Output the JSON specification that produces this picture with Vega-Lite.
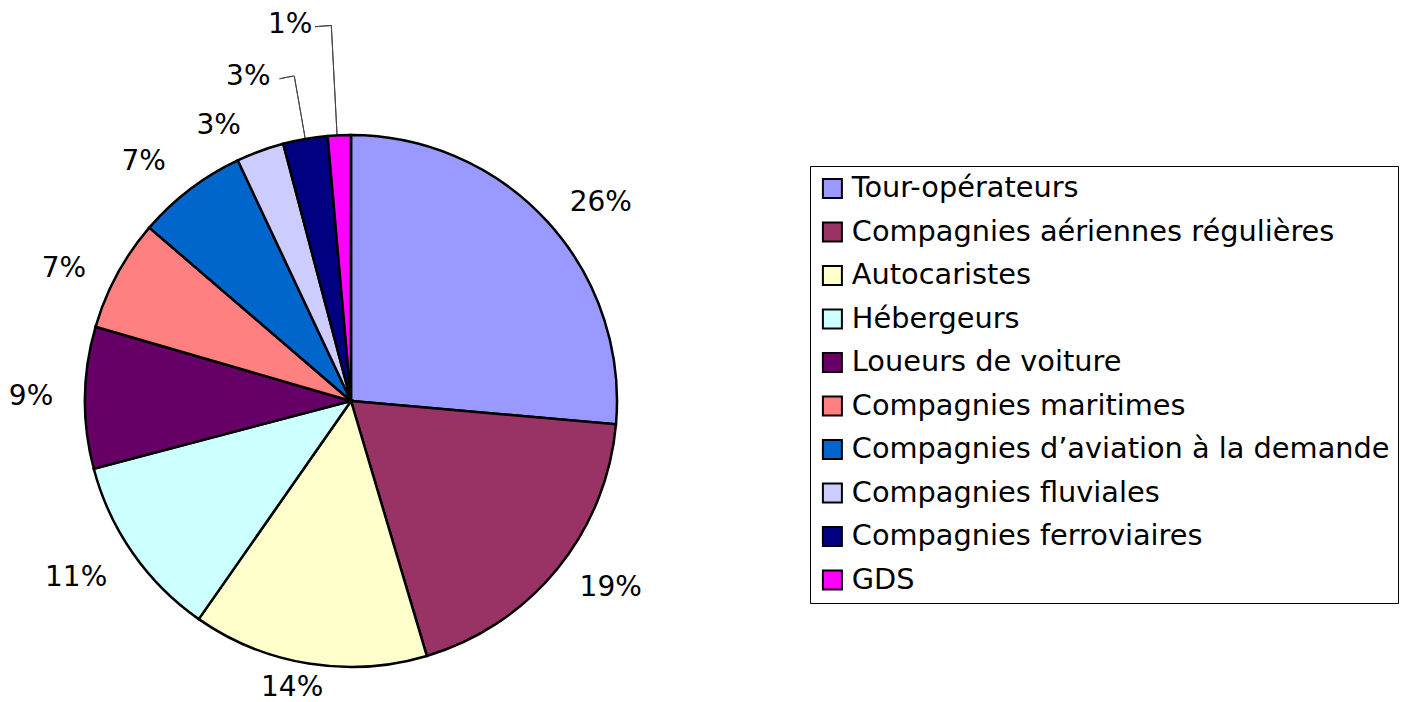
{
  "$schema": "https://vega.github.io/schema/vega-lite/v6.json",
  "width": 702,
  "height": 600,
  "autosize": {"type": "none"},
  "padding": {"left": 0, "top": 101, "right": 703, "bottom": 1},
  "background": "white",
  "config": {"view": {"stroke": null}},
  "data": {
    "values": [
      {"cat": "Tour-opérateurs", "v": 0.264},
      {"cat": "Compagnies aériennes régulières", "v": 0.190},
      {"cat": "Autocaristes", "v": 0.143},
      {"cat": "Hébergeurs", "v": 0.112},
      {"cat": "Loueurs de voiture", "v": 0.086},
      {"cat": "Compagnies maritimes", "v": 0.068},
      {"cat": "Compagnies d’aviation à la demande", "v": 0.067},
      {"cat": "Compagnies fluviales", "v": 0.029},
      {"cat": "Compagnies ferroviaires", "v": 0.027},
      {"cat": "GDS", "v": 0.014}
    ]
  },
  "encoding": {
    "theta": {"field": "v", "type": "quantitative", "stack": true},
    "order": {"field": "v", "type": "quantitative", "sort": "descending"},
    "detail": {"field": "cat", "type": "nominal"}
  },
  "layer": [
    {
      "mark": {"type": "arc", "radius": 330, "radius2": 266, "thetaOffset": 0, "padAngle": 1, "fillOpacity": 0, "stroke": "#444444", "strokeWidth": 1},
      "encoding": {"strokeOpacity": {"condition": {"test": "datum.cat == 'Compagnies ferroviaires'", "value": 1}, "value": 0}}
    },
    {
      "mark": {"type": "arc", "radius": 330, "radius2": 330, "thetaOffset": -0.0236, "padAngle": 0.0892, "fillOpacity": 0, "stroke": "#444444", "strokeWidth": 1},
      "encoding": {"strokeOpacity": {"condition": {"test": "datum.cat == 'Compagnies ferroviaires'", "value": 1}, "value": 0}}
    },
    {
      "mark": {"type": "arc", "radius": 376, "radius2": 266, "thetaOffset": -0.0084, "padAngle": 1, "fillOpacity": 0, "stroke": "#444444", "strokeWidth": 1},
      "encoding": {"strokeOpacity": {"condition": {"test": "datum.cat == 'GDS'", "value": 1}, "value": 0}}
    },
    {
      "mark": {"type": "arc", "radius": 376, "radius2": 376, "thetaOffset": -0.0302, "padAngle": 0.0314, "fillOpacity": 0, "stroke": "#444444", "strokeWidth": 1},
      "encoding": {"strokeOpacity": {"condition": {"test": "datum.cat == 'GDS'", "value": 1}, "value": 0}}
    },
    {
      "mark": {"type": "arc", "radius": 266, "stroke": "black", "strokeWidth": 2.5},
      "encoding": {
        "color": {
          "field": "cat",
          "type": "nominal",
          "scale": {
            "domain": ["Tour-opérateurs", "Compagnies aériennes régulières", "Autocaristes", "Hébergeurs", "Loueurs de voiture", "Compagnies maritimes", "Compagnies d’aviation à la demande", "Compagnies fluviales", "Compagnies ferroviaires", "GDS"],
            "range": ["#9999FF", "#993366", "#FFFFCC", "#CCFFFF", "#660066", "#FF8080", "#0066CC", "#CCCCFF", "#000080", "#FF00FF"]
          },
          "legend": {
            "orient": "none",
            "legendX": 810,
            "legendY": 65,
            "title": null,
            "symbolType": "square",
            "symbolSize": 361,
            "symbolStrokeColor": "black",
            "symbolStrokeWidth": 2,
            "labelFont": "DejaVu Sans",
            "labelFontSize": 28.8,
            "labelColor": "black",
            "labelOffset": 5,
            "labelLimit": 1000,
            "rowPadding": 13.5,
            "padding": 8,
            "strokeColor": "black",
            "fillColor": "white"
          }
        }
      }
    },
    {
      "mark": {"type": "text", "radius": 319, "thetaOffset": 0.07, "font": "DejaVu Sans", "fontSize": 28, "fill": "black"},
      "encoding": {"text": {"condition": {"test": "datum.cat == 'Tour-opérateurs'", "field": "v", "type": "quantitative", "format": ".0%"}, "value": ""}}
    },
    {
      "mark": {"type": "text", "radius": 320, "thetaOffset": -0.061, "font": "DejaVu Sans", "fontSize": 28, "fill": "black"},
      "encoding": {"text": {"condition": {"test": "datum.cat == 'Compagnies aériennes régulières'", "field": "v", "type": "quantitative", "format": ".0%"}, "value": ""}}
    },
    {
      "mark": {"type": "text", "radius": 293, "thetaOffset": 0.042, "font": "DejaVu Sans", "fontSize": 28, "fill": "black"},
      "encoding": {"text": {"condition": {"test": "datum.cat == 'Autocaristes'", "field": "v", "type": "quantitative", "format": ".0%"}, "value": ""}}
    },
    {
      "mark": {"type": "text", "radius": 327, "thetaOffset": 0.037, "font": "DejaVu Sans", "fontSize": 28, "fill": "black"},
      "encoding": {"text": {"condition": {"test": "datum.cat == 'Hébergeurs'", "field": "v", "type": "quantitative", "format": ".0%"}, "value": ""}}
    },
    {
      "mark": {"type": "text", "radius": 320, "thetaOffset": 0, "font": "DejaVu Sans", "fontSize": 28, "fill": "black"},
      "encoding": {"text": {"condition": {"test": "datum.cat == 'Loueurs de voiture'", "field": "v", "type": "quantitative", "format": ".0%"}, "value": ""}}
    },
    {
      "mark": {"type": "text", "radius": 316, "thetaOffset": -0.065, "font": "DejaVu Sans", "fontSize": 28, "fill": "black"},
      "encoding": {"text": {"condition": {"test": "datum.v > 0.06 && datum.v < 0.07", "field": "v", "type": "quantitative", "format": ".0%"}, "value": ""}}
    },
    {
      "mark": {"type": "text", "radius": 305, "thetaOffset": -0.1, "font": "DejaVu Sans", "fontSize": 28, "fill": "black"},
      "encoding": {"text": {"condition": {"test": "datum.cat == 'Compagnies fluviales'", "field": "v", "type": "quantitative", "format": ".0%"}, "value": ""}}
    },
    {
      "mark": {"type": "text", "radius": 340, "thetaOffset": -0.134, "font": "DejaVu Sans", "fontSize": 28, "fill": "black"},
      "encoding": {"text": {"condition": {"test": "datum.cat == 'Compagnies ferroviaires'", "field": "v", "type": "quantitative", "format": ".0%"}, "value": ""}}
    },
    {
      "mark": {"type": "text", "radius": 381, "thetaOffset": -0.1166, "font": "DejaVu Sans", "fontSize": 28, "fill": "black"},
      "encoding": {"text": {"condition": {"test": "datum.cat == 'GDS'", "field": "v", "type": "quantitative", "format": ".0%"}, "value": ""}}
    }
  ]
}
